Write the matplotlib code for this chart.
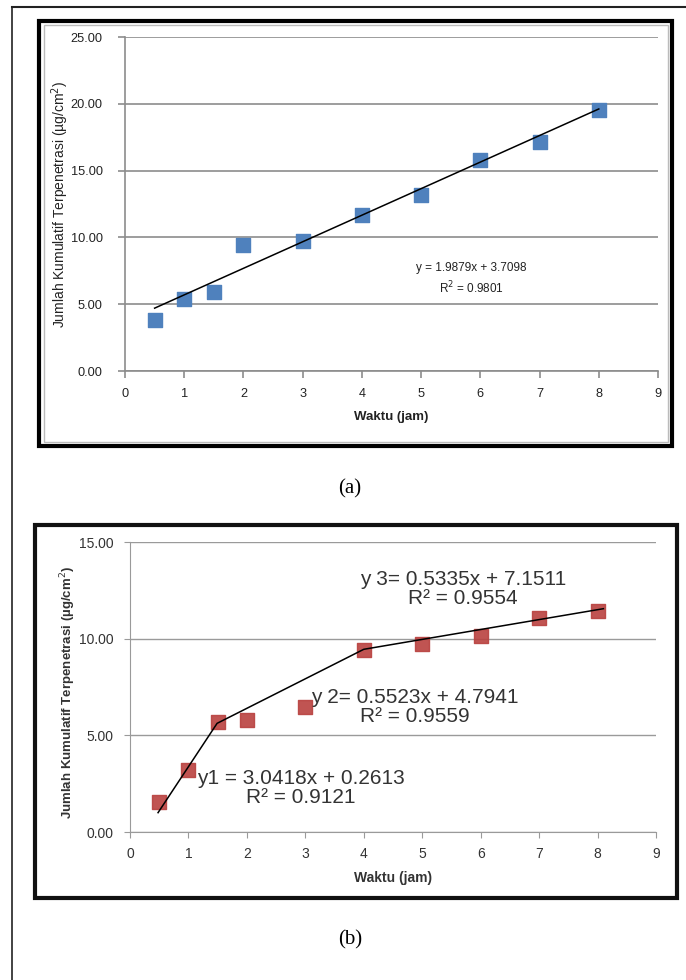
import matplotlib.pyplot as plt
from matplotlib.patches import Rectangle
from matplotlib.lines import Line2D
import numpy as np

plt.rcParams['font.family'] = ['Liberation Sans', 'DejaVu Sans']

W, H = 686, 980

# (a) data
waktu = [0.5, 1, 1.5, 2, 3, 4, 5, 6, 7, 8]
kumulatif_a = [3.85, 5.4, 5.95, 9.45, 9.75, 11.65, 13.2, 15.8, 17.15, 19.55]
slope_a, intercept_a = 1.9879, 3.7098
persamaan_a = "y = 1.9879x + 3.7098\nR$^2$ = 0.9801"

# (b) data
kumulatif_b = [1.55, 3.22, 5.69, 5.78, 6.47, 9.43, 9.71, 10.12, 11.09, 11.43]
garis_b_x = [0.48, 1.49, 4.0, 8.1]
garis_b_y = [1.0, 5.62, 9.45, 11.55]
persamaan_b = ["y1 = 3.0418x + 0.2613\nR² = 0.9121",
               "y 2= 0.5523x + 4.7941\nR² = 0.9559",
               "y 3= 0.5335x + 7.1511\nR² = 0.9554"]
posisi_b = [(2.93, 2.3), (4.88, 6.47), (5.7, 12.55)]

ylabel = "Jumlah Kumulatif Terpenetrasi (µg/cm$^2$)"


def box(l, t, r, b):
    return [l / W, 1 - b / H, (r - l) / W, (b - t) / H]


def frame(fig, l, t, r, b, lw, color):
    x0, y0, w, h = box(l, t, r, b)
    fig.add_artist(Rectangle((x0, y0), w, h, transform=fig.transFigure,
                             fill=False, lw=lw, ec=color))


fig = plt.figure(figsize=(W / 100, H / 100), dpi=100)

# outer page lines
fig.add_artist(Line2D([12 / W, 12 / W], [0, 1 - 7 / H], transform=fig.transFigure, color='#222', lw=1.2))
fig.add_artist(Line2D([12 / W, 1], [1 - 7 / H, 1 - 7 / H], transform=fig.transFigure, color='#222', lw=1.5))

# ---------- chart (a)
frame(fig, 39, 21, 672, 446, 3.0, 'black')
frame(fig, 44, 25, 668, 442, 1.0, '#bbbbbb')
ax = fig.add_axes(box(125, 37, 658, 371))
ax.scatter(waktu, kumulatif_a, marker='s', s=110, color='#4F81BD', zorder=3)
xf = np.array([waktu[0], waktu[-1]])
ax.plot(xf, slope_a * xf + intercept_a, color='black', lw=1.1, zorder=4)
ax.set_xlim(0, 9)
ax.set_ylim(0, 25)
ax.set_xticks(range(10))
ax.set_yticks(np.arange(0, 26, 5))
ax.set_yticklabels([f"{v:.2f}" for v in np.arange(0, 26, 5)])
ax.grid(axis='y', color='#8c8c8c', lw=1.2)
ax.set_axisbelow(True)
for s in ['top', 'right']:
    ax.spines[s].set_visible(False)
for s in ['left', 'bottom']:
    ax.spines[s].set_color('#8c8c8c')
    ax.spines[s].set_linewidth(1.2)
ax.tick_params(colors='#8c8c8c', labelcolor='#222', labelsize=9.2, length=5, width=1.2)
ax.tick_params(axis='y', pad=11)
ax.tick_params(axis='x', pad=7)
ax.set_xlabel("Waktu (jam)", fontsize=9.5, fontweight='bold', color='#222', labelpad=8)
ax.set_ylabel(ylabel, fontsize=10, color='#222')
ax.yaxis.set_label_coords(-0.101, 0.5)
ax.text(5.85, 6.9, persamaan_a, ha='center', va='center', fontsize=8.5, color='#222', linespacing=1.4)

fig.text(350 / W, 1 - 489 / H, "(a)", ha='center', va='center', fontsize=15, family='Liberation Serif')

# ---------- chart (b)
frame(fig, 35, 525, 677, 898, 3.0, '#111111')
bx = fig.add_axes(box(130, 542, 656, 832))
bx.scatter(waktu, kumulatif_b, marker='s', s=100, color='#B9413F', alpha=0.9, zorder=3)
bx.plot(garis_b_x, garis_b_y, color='black', lw=1.1, zorder=4)
for teks, (tx, ty) in zip(persamaan_b, posisi_b):
    bx.text(tx, ty, teks, ha='center', va='center', fontsize=15, color='#333', linespacing=1.0)
bx.set_xlim(0, 9)
bx.set_ylim(0, 15)
bx.set_xticks(range(10))
bx.set_yticks([0, 5, 10, 15])
bx.set_yticklabels([f"{v:.2f}" for v in [0, 5, 10, 15]])
bx.grid(axis='y', color='#9a9a9a', lw=1.0)
bx.set_axisbelow(True)
for s in ['top', 'right']:
    bx.spines[s].set_visible(False)
for s in ['left', 'bottom']:
    bx.spines[s].set_color('#9a9a9a')
bx.tick_params(colors='#9a9a9a', labelcolor='#333', labelsize=10, length=4)
bx.tick_params(axis='y', pad=8)
bx.tick_params(axis='x', pad=7)
bx.set_xlabel("Waktu (jam)", fontsize=10, fontweight='bold', color='#333', labelpad=7)
bx.set_ylabel(ylabel, fontsize=9.5, fontweight='bold', color='#333')
bx.yaxis.set_label_coords(-0.099, 0.48)

fig.text(350 / W, 1 - 940 / H, "(b)", ha='center', va='center', fontsize=15, family='Liberation Serif')

fig.savefig("out.png", dpi=100)
